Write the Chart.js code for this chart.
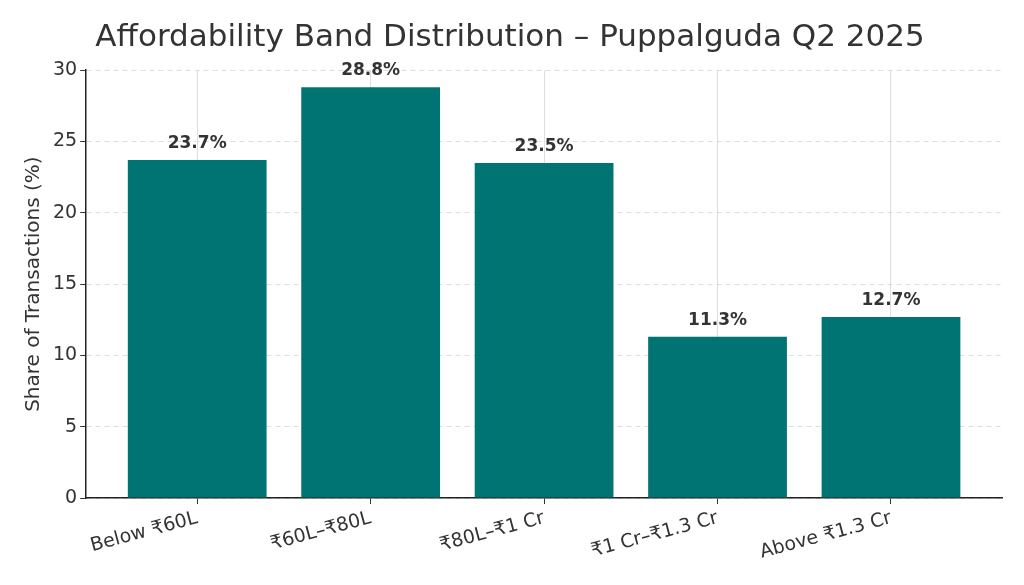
<!DOCTYPE html>
<html><head><meta charset="utf-8">
<script src="https://cdn.jsdelivr.net/npm/chart.js@4/dist/chart.umd.min.js"></script>
<style>body{margin:0;background:#fff}</style></head>
<body><canvas id="c" width="1024" height="585"></canvas>
<script>
const categories = ["Below ₹60L", "₹60L–₹80L", "₹80L–₹1 Cr", "₹1 Cr–₹1.3 Cr", "Above ₹1.3 Cr"];
const shares = [23.7, 28.8, 23.5, 11.3, 12.7];
const yTicks = [0, 5, 10, 15, 20, 25, 30];
const FONT = "'DejaVu Sans', sans-serif";
const labelPlugin = {
  id: 'lbl',
  afterDatasetsDraw(chart) {
    const ctx = chart.ctx, meta = chart.getDatasetMeta(0);
    ctx.save();
    ctx.font = "bold 17px " + FONT; ctx.fillStyle = '#333'; ctx.textAlign = 'center'; ctx.textBaseline = 'bottom';
    meta.data.forEach((b, i) => ctx.fillText(shares[i].toFixed(1) + '%', b.x, b.y - 8));
    ctx.restore();
  }
};
new Chart(document.getElementById('c'), {
  type: 'bar',
  data: { datasets: [{ data: shares.map((v, i) => ({ x: i, y: v })), backgroundColor: '#007472',
    categoryPercentage: 1, barPercentage: 0.8 }] },
  options: {
    responsive: false, animation: false,
    layout: { padding: { left: 18, right: 22, top: 5, bottom: 18 } },
    plugins: { legend: { display: false }, tooltip: { enabled: false },
      title: { display: true, text: 'Affordability Band Distribution – Puppalguda Q2 2025',
        font: { family: FONT, size: 31, weight: 'normal' }, color: '#333', padding: { top: 14, bottom: 14 } } },
    scales: {
      x: { type: 'linear', min: -0.64, max: 4.64, z: 1, offset: false,
        afterBuildTicks: s => { s.ticks = [0,1,2,3,4].map(v => ({ value: v })); },
        ticks: { callback: v => categories[v], minRotation: 15, maxRotation: 15, autoSkip: false,
          font: { family: FONT, size: 19 }, color: '#333' },
        grid: { offset: false, color: 'rgba(200,200,200,0.6)', drawTicks: true, tickColor: '#333', tickLength: 6 },
        border: { color: '#222', width: 1.5 } },
      y: { min: 0, max: 30, z: 1,
        afterBuildTicks: s => { s.ticks = yTicks.map(v => ({ value: v })); },
        ticks: { font: { family: FONT, size: 19 }, color: '#333' },
        title: { display: true, text: 'Share of Transactions (%)', font: { family: FONT, size: 20 }, color: '#333' },
        grid: { color: 'rgba(200,200,200,0.6)', tickColor: '#333', tickLength: 6 },
        border: { color: '#222', width: 1.5, dash: [5, 4] } }
    }
  },
  plugins: [labelPlugin]
});
</script></body></html>
